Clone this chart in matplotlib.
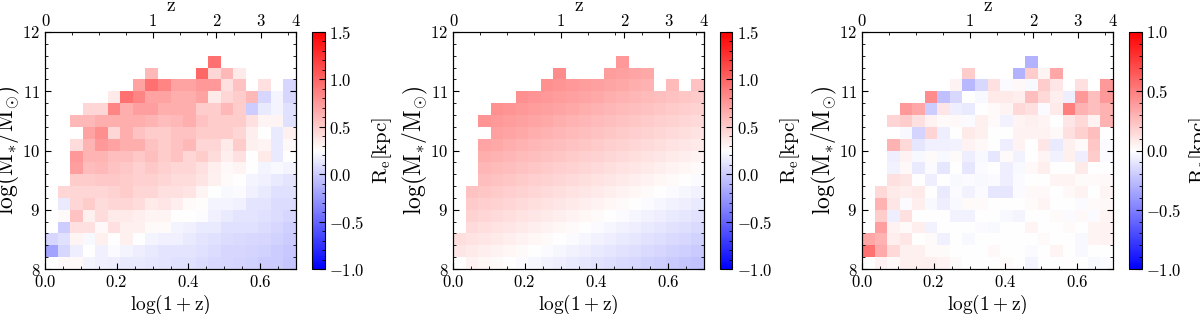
import numpy as np
import matplotlib
matplotlib.use('Agg')
import matplotlib.pyplot as plt
from matplotlib.ticker import AutoMinorLocator

plt.rcParams['font.family'] = 'serif'
plt.rcParams['font.serif'] = ['cmr10', 'DejaVu Serif']
plt.rcParams['mathtext.fontset'] = 'cm'
plt.rcParams['axes.formatter.use_mathtext'] = True
plt.rcParams['axes.unicode_minus'] = True

nan = np.nan

# bin edges: log(1+z) in 0.035 steps, log(M*/Msun) in 0.2 dex steps
logz_edges = np.linspace(0.0, 0.7, 21)
mass_edges = np.linspace(8.0, 12.0, 21)

# median Re per bin (rows = mass bins from 8.0 upwards, cols = log(1+z) bins)
re_data = [
    [nan, .28, .28, .20, .18, .17, .15, .15, .13, .12, .10, .10, .08, .06, .05, .04, .03, .00, .00, -.03],
    [-.20, .05, .17, .25, .18, .23, .20, .17, .15, .12, .12, .12, .10, .08, .05, .05, .04, .03, .00, -.02],
    [.05, .10, .30, .22, .32, .25, .32, .25, .20, .18, .18, .15, .12, .10, .08, .07, .06, .05, .03, .00],
    [nan, .00, .40, .40, .28, .40, .32, .32, .27, .27, .20, .18, .15, .15, .10, .10, .10, .08, .05, .02],
    [nan, .27, .55, .32, .42, .35, .35, .33, .30, .30, .25, .25, .24, .18, .15, .12, .12, .10, .08, .05],
    [nan, .15, .45, .50, .42, .45, .45, .42, .35, .37, .33, .27, .26, .20, .20, .18, .12, .12, .08, .08],
    [nan, .45, .45, .45, .45, .47, .50, .45, .45, .40, .40, .38, .30, .25, .22, .23, .18, .15, .10, .10],
    [nan, nan, .50, .50, .52, .52, .50, .48, .48, .45, .42, .42, .38, .32, .27, .25, .20, .18, .15, .12],
    [nan, nan, .72, .58, .60, .55, .52, .48, .52, .48, .45, .45, .40, .33, .28, .30, .25, .20, .22, .20],
    [nan, nan, .75, .62, .62, .57, .57, .52, .57, .50, .55, .45, .50, .42, .33, .40, .25, .35, .15, .25],
    [nan, nan, .42, .62, .75, .70, .65, .65, .55, .50, .55, .60, .45, .45, .35, .50, .32, .30, .15, .28],
    [nan, nan, nan, .70, .80, .45, .65, .55, .50, .50, .55, .55, .50, .50, .50, .45, .33, .25, .15, .32],
    [nan, nan, .60, .60, .65, .65, .65, .65, .62, .58, .60, .65, .55, .50, .50, .50, .40, .30, .30, .10],
    [nan, nan, nan, .45, .45, .85, .65, .72, .72, .65, .65, .65, .50, .50, .60, .50, .00, .15, .20, .10],
    [nan, nan, nan, nan, nan, .35, .95, .85, .70, .70, .65, .65, .70, .35, .45, .50, .60, .05, .20, .05],
    [nan, nan, nan, nan, nan, nan, nan, .70, .95, .85, .70, .70, .75, .75, .40, .55, nan, .40, nan, .05],
    [nan, nan, nan, nan, nan, nan, nan, nan, .60, nan, nan, nan, 1.0, .45, .60, .35, nan, nan, nan, nan],
    [nan, nan, nan, nan, nan, nan, nan, nan, nan, nan, nan, nan, nan, .95, nan, nan, nan, nan, nan, nan],
    [nan] * 20,
    [nan] * 20,
]

re_model = [
    [nan, .31, .29, .27, .25, .23, .21, .19, .17, .15, .13, .11, .09, .07, .05, .03, .01, -.01, -.03, -.05],
    [.37, .35, .33, .31, .29, .27, .25, .23, .21, .19, .17, .15, .13, .11, .09, .07, .05, .03, .01, -.01],
    [.41, .39, .37, .35, .33, .31, .29, .27, .25, .23, .21, .19, .17, .15, .13, .11, .09, .07, .05, .03],
    [nan, .43, .41, .39, .37, .35, .33, .31, .29, .27, .25, .23, .21, .19, .17, .15, .13, .11, .09, .07],
    [nan, .47, .45, .43, .41, .39, .37, .35, .33, .31, .29, .27, .25, .23, .21, .19, .17, .15, .13, .11],
    [nan, .51, .49, .47, .45, .43, .41, .39, .37, .35, .33, .31, .29, .27, .25, .23, .21, .19, .17, .15],
    [nan, .55, .53, .51, .49, .47, .45, .43, .41, .39, .37, .35, .33, .31, .29, .27, .25, .23, .21, .19],
    [nan, nan, .57, .55, .53, .51, .49, .47, .45, .43, .41, .39, .37, .35, .33, .31, .29, .27, .25, .23],
    [nan, nan, .61, .59, .57, .55, .53, .51, .49, .47, .45, .43, .41, .39, .37, .35, .33, .31, .29, .27],
    [nan, nan, .65, .63, .61, .59, .57, .55, .53, .51, .49, .47, .45, .43, .41, .39, .37, .35, .33, .31],
    [nan, nan, .69, .67, .65, .63, .61, .59, .57, .55, .53, .51, .49, .47, .45, .43, .41, .39, .37, .35],
    [nan, nan, nan, .71, .69, .67, .65, .63, .61, .59, .57, .55, .53, .51, .49, .47, .45, .43, .41, .39],
    [nan, nan, .77, .75, .73, .71, .69, .67, .65, .63, .61, .59, .57, .55, .53, .51, .49, .47, .45, .43],
    [nan, nan, nan, .79, .77, .75, .73, .71, .69, .67, .65, .63, .61, .59, .57, .55, .53, .51, .49, .47],
    [nan, nan, nan, nan, nan, .79, .77, .75, .73, .71, .69, .67, .65, .63, .61, .59, .57, .55, .53, .51],
    [nan, nan, nan, nan, nan, nan, nan, .79, .77, .75, .73, .71, .69, .67, .65, .63, nan, .59, nan, .55],
    [nan, nan, nan, nan, nan, nan, nan, nan, .81, nan, nan, nan, .73, .71, .69, .67, nan, nan, nan, nan],
    [nan, nan, nan, nan, nan, nan, nan, nan, nan, nan, nan, nan, nan, .75, nan, nan, nan, nan, nan, nan],
    [nan] * 20,
    [nan] * 20,
]

re_resid = [
    [nan, .05, .02, .06, .06, .07, .05, .02, .00, .00, .00, .02, .00, -.04, .00, .00, .00, .00, -.03, -.02],
    [.55, .33, .15, .06, .06, .02, .02, .00, .00, .00, .03, .00, .00, -.02, .00, .04, .00, -.03, .00, .00],
    [.35, .30, .07, .10, .00, .02, -.06, .00, -.03, .00, .00, .00, .00, .00, .02, .00, .00, -.03, .04, .05],
    [nan, .38, .05, .02, .07, -.05, .00, .00, .00, -.02, -.03, .00, .00, .04, .00, .00, .02, .00, .04, .05],
    [nan, .20, -.07, .12, .00, .00, .00, -.05, -.05, .00, .00, -.03, -.04, .00, .00, .02, -.02, .03, -.02, .04],
    [nan, .30, .10, -.02, .07, -.03, -.07, -.03, .02, .02, .00, .00, .00, .02, .04, .00, .00, -.02, .02, .03],
    [nan, .15, .08, .07, .08, .00, -.08, -.02, -.05, -.02, -.10, -.10, -.02, .03, .03, .00, .03, .05, .00, .04],
    [nan, nan, .12, .10, .00, -.07, .00, -.03, -.02, -.03, -.02, -.07, -.02, .00, .00, .04, .04, .02, .02, .03],
    [nan, nan, -.05, .03, -.08, -.02, -.10, .00, -.10, -.02, .00, -.07, -.03, .03, .07, .00, .00, .08, .00, .00],
    [nan, nan, -.07, .05, -.03, .02, -.03, .02, -.07, -.03, -.10, .02, -.05, .00, .04, -.05, .06, -.07, .20, -.02],
    [nan, nan, .30, .15, -.10, -.06, -.06, -.05, .05, .03, .00, -.07, .05, .00, .10, -.08, .06, .02, .22, -.02],
    [nan, nan, nan, -.03, -.17, .17, -.07, .00, .08, .06, .00, .00, .05, .05, .05, .03, .12, .18, .25, .00],
    [nan, nan, .17, .20, .12, .05, .02, .03, -.02, .06, .02, -.05, .04, .06, .04, .00, .10, .15, .05, .30],
    [nan, nan, nan, .40, .35, -.20, .10, -.07, -.08, .00, .02, .04, .15, .12, -.02, .08, .50, .30, .25, .30],
    [nan, nan, nan, nan, nan, .45, -.25, -.15, .00, -.03, .08, .08, .07, .25, .15, .07, -.07, .40, .25, .40],
    [nan, nan, nan, nan, nan, nan, nan, .05, -.28, -.15, .12, -.02, .03, -.03, .20, .10, nan, .12, nan, .40],
    [nan, nan, nan, nan, nan, nan, nan, nan, .20, nan, nan, nan, -.30, .20, .04, .35, nan, nan, nan, nan],
    [nan, nan, nan, nan, nan, nan, nan, nan, nan, nan, nan, nan, nan, -.30, nan, nan, nan, nan, nan, nan],
    [nan] * 20,
    [nan] * 20,
]

z_ticks = [0, 1, 2, 3, 4]

panels = [
    (re_data, -1.0, 1.5, [-1.0, -0.5, 0.0, 0.5, 1.0, 1.5]),
    (re_model, -1.0, 1.5, [-1.0, -0.5, 0.0, 0.5, 1.0, 1.5]),
    (re_resid, -1.0, 1.0, [-1.0, -0.5, 0.0, 0.5, 1.0]),
]

fig = plt.figure(figsize=(12, 3.14), dpi=100)
lefts = [45, 453, 862]

for (grid, vmin, vmax, cticks), left in zip(panels, lefts):
    ax = fig.add_axes([left / 1200, 45 / 314, 251 / 1200, 237 / 314])
    vals = np.ma.masked_invalid(np.array(grid, dtype=float))
    mesh = ax.pcolormesh(logz_edges, mass_edges, vals, cmap='bwr',
                         vmin=vmin, vmax=vmax, shading='flat')
    ax.set_xlim(0, 0.7)
    ax.set_ylim(8, 12)
    ax.set_xticks([0.0, 0.2, 0.4, 0.6])
    ax.set_yticks([8, 9, 10, 11, 12])
    ax.xaxis.set_minor_locator(AutoMinorLocator())
    ax.yaxis.set_minor_locator(AutoMinorLocator())
    ax.tick_params(which='both', direction='in', top=False, right=True, labelsize=12)
    ax.tick_params(which='major', length=4)
    ax.tick_params(which='minor', length=2)
    ax.set_xlabel(r'$\rm log(1+z)$', fontsize=14, labelpad=2)
    ax.set_ylabel(r'$\rm log(M_{*}/M_{\odot})$', fontsize=17, labelpad=0)

    # redshift axis on top
    ax2 = ax.twiny()
    ax2.set_xlim(0, 0.7)
    ax2.set_xticks(np.log10(1 + np.array(z_ticks)))
    ax2.set_xticklabels([str(z) for z in z_ticks])
    ax2.xaxis.set_minor_locator(AutoMinorLocator())
    ax2.tick_params(which='both', direction='in', labelsize=12, pad=2)
    ax2.tick_params(which='major', length=4)
    ax2.tick_params(which='minor', length=2)
    ax2.set_xlabel('z', fontsize=14, labelpad=2)

    cax = fig.add_axes([(left + 267) / 1200, 45 / 314, 12.5 / 1200, 237 / 314])
    cb = fig.colorbar(mesh, cax=cax, ticks=cticks)
    cb.ax.yaxis.set_minor_locator(AutoMinorLocator())
    cb.ax.tick_params(which='both', direction='in', labelsize=12)
    cb.ax.tick_params(which='major', length=4)
    cb.ax.tick_params(which='minor', length=2)
    cb.set_label(r'$\rm R_e[kpc]$', fontsize=15, labelpad=4)

fig.savefig('out.png', dpi=100)
